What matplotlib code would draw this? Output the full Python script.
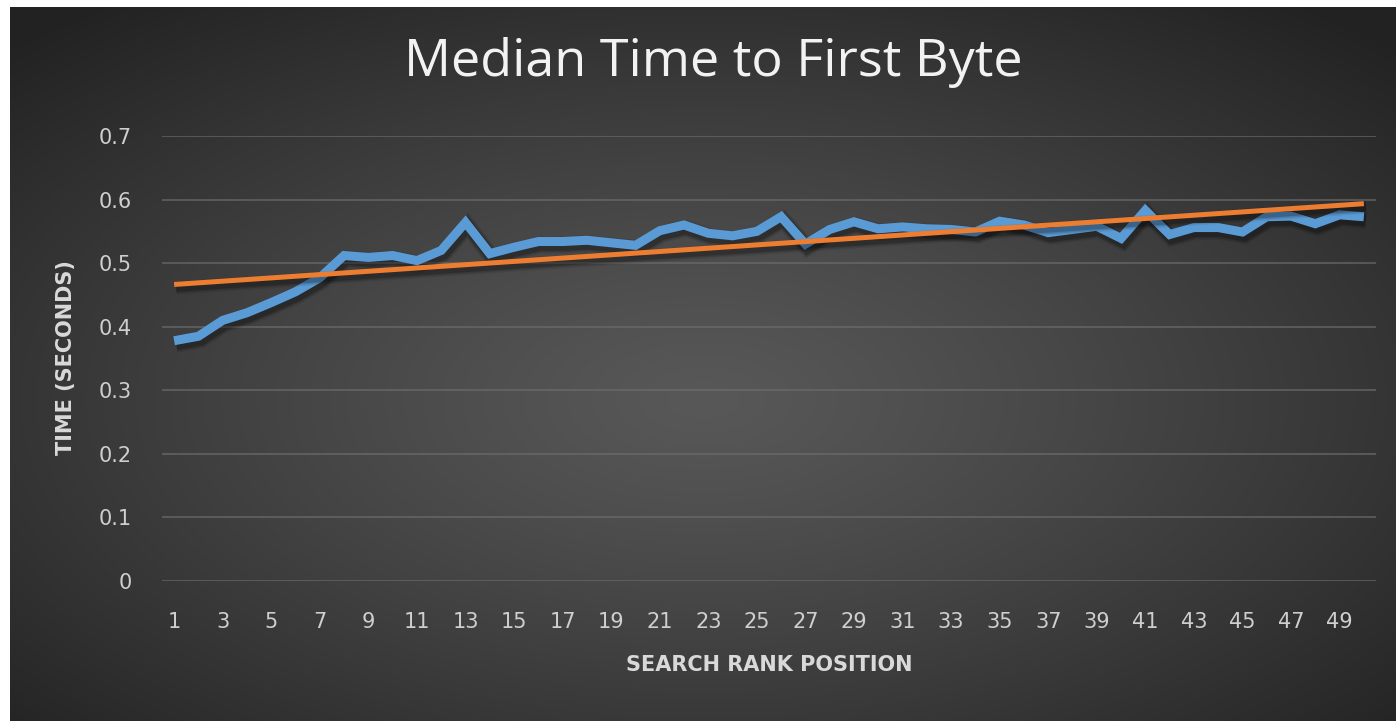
import numpy as np
import matplotlib
matplotlib.use("Agg")
import matplotlib.pyplot as plt
import matplotlib.patheffects as pe
from matplotlib import font_manager

# ---- data ----
ranks = list(range(1, 51))
median_ttfb = [0.378, 0.385, 0.410, 0.422, 0.438, 0.455, 0.477, 0.512, 0.509, 0.512,
               0.504, 0.520, 0.564, 0.515, 0.525, 0.534, 0.534, 0.536, 0.532, 0.528,
               0.551, 0.560, 0.547, 0.543, 0.550, 0.573, 0.530, 0.553, 0.565, 0.554,
               0.557, 0.554, 0.553, 0.549, 0.566, 0.560, 0.548, 0.553, 0.558, 0.539,
               0.583, 0.545, 0.556, 0.556, 0.549, 0.573, 0.574, 0.562, 0.576, 0.573]
y_ticks = [0, 0.1, 0.2, 0.3, 0.4, 0.5, 0.6, 0.7]
y_tick_labels = ["0", "0.1", "0.2", "0.3", "0.4", "0.5", "0.6", "0.7"]
x_tick_labels = [str(r) for r in ranks[::2]]

title = "Median Time to First Byte"
xlabel = "SEARCH RANK POSITION"
ylabel = "TIME (SECONDS)"

W, H = 1396, 721
fig = plt.figure(figsize=(W / 100, H / 100), dpi=100)
fig.patch.set_facecolor("white")

# ---- gradient background ----
bx0, by_top = 10, 7
bw, bh = W - bx0, H - by_top
bg = fig.add_axes([bx0 / W, 0, bw / W, bh / H], zorder=0)
yy, xx = np.mgrid[0:bh, 0:bw]
cx, cy = bw * 0.5, bh * 0.55
d = np.sqrt(((xx - cx) / (bw * 0.5)) ** 2 + ((yy - cy) / (bh * 0.5)) ** 2) / np.sqrt(2)
d = np.clip(d, 0, 1)
c0, c1 = 0x58 / 255, 0x22 / 255
g = c0 + (c1 - c0) * d ** 1.2
img = np.dstack([g, g, g])
bg.imshow(img, aspect="auto", extent=[0, 1, 0, 1], interpolation="bilinear")
bg.set_axis_off()

# ---- main axes ----
left, right, top, bottom = 162, 1376, 136, 581
ax = fig.add_axes([left / W, (H - bottom) / H, (right - left) / W, (bottom - top) / H], zorder=1)
ax.set_facecolor("none")
for s in ax.spines.values():
    s.set_visible(False)

ax.set_xlim(0.5, 50.5)
ax.set_ylim(0, 0.7)
ax.set_yticks(y_ticks)
ax.set_yticklabels(y_tick_labels)
ax.set_xticks(ranks[::2])
ax.set_xticklabels(x_tick_labels)
ax.tick_params(axis="both", length=0, colors="#cfcfcf", labelsize=15)
ax.tick_params(axis="y", pad=22)
ax.tick_params(axis="x", pad=22)
ax.grid(axis="y", color="#6e6e6e", linewidth=1.1, alpha=0.8)
ax.set_axisbelow(True)

def shadow_effects(lw):
    effs = []
    for k, a in [(6, 0.08), (4, 0.12), (2, 0.2)]:
        effs.append(pe.SimpleLineShadow(offset=(1.5, -2.5), shadow_color="black",
                                        alpha=a, linewidth=lw + k))
    effs.append(pe.Normal())
    return effs

ax.plot(ranks, median_ttfb, color="#5B9BD5", linewidth=6.5, solid_joinstyle="miter",
        solid_capstyle="butt", zorder=3, path_effects=shadow_effects(6.5))

# linear trendline (least squares, like Excel)
coef = np.polyfit(ranks, median_ttfb, 1)
trend = np.polyval(coef, ranks)
ax.plot(ranks, trend, color="#ED7D31", linewidth=3.6, solid_capstyle="butt", zorder=4,
        path_effects=shadow_effects(3.6))

# ---- fonts ----
names = {f.name for f in font_manager.fontManager.ttflist}
narrow = "Liberation Sans Narrow" if "Liberation Sans Narrow" in names else "DejaVu Sans"
title_font = "Open Sans" if "Open Sans" in names else "DejaVu Sans"

fig.text(713 / W, 1 - 62 / H, title, ha="center", va="center", color="#f2f2f2",
         fontsize=37.5, family=title_font, fontweight="normal")
fig.text((left + right) / 2 / W, 1 - 665 / H, xlabel, ha="center", va="center",
         color="#d9d9d9", fontsize=15, family=narrow, fontweight="bold")
fig.text(66 / W, 1 - 358 / H, ylabel, ha="center", va="center", rotation=90,
         color="#d9d9d9", fontsize=15, family=narrow, fontweight="bold")

fig.savefig("out.png", dpi=100, facecolor=fig.get_facecolor())
